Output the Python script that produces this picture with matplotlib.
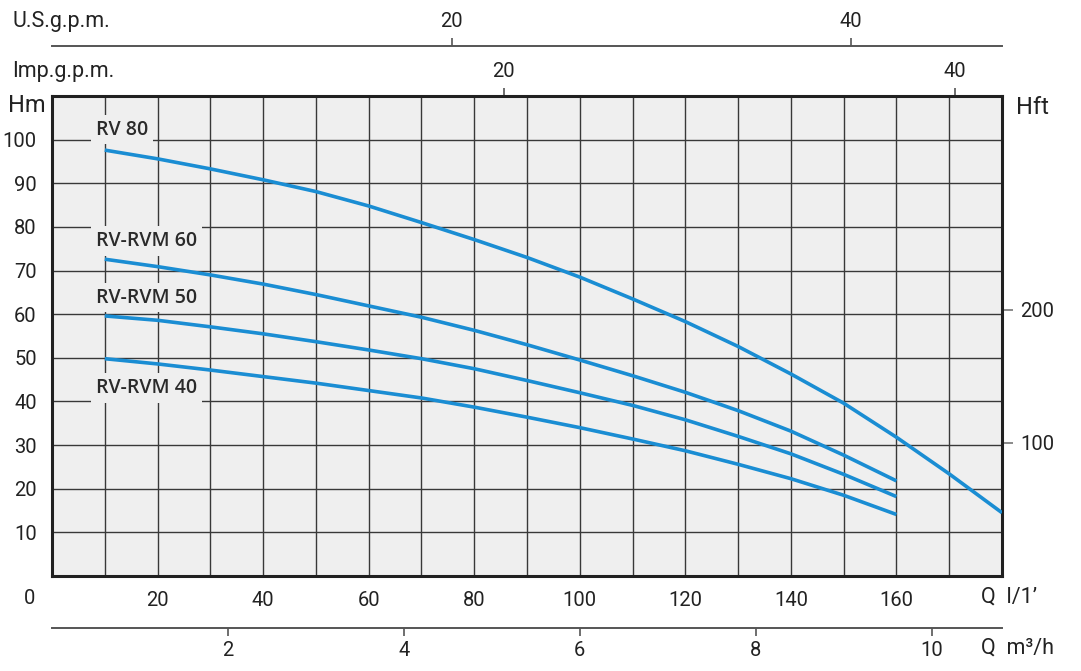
import matplotlib
matplotlib.use("Agg")
import matplotlib.pyplot as plt
import numpy as np

# ---------------- data ----------------
q_lmin = [10, 20, 30, 40, 50, 60, 70, 80, 90, 100, 110, 120, 130, 140, 150, 160, 170, 180]
h_rv80 = [97.6, 95.6, 93.3, 90.8, 88.1, 84.8, 81.0, 77.1, 73.0, 68.5, 63.5, 58.3, 52.6, 46.3, 39.6, 31.8, 23.4, 14.5]
h_rvm60 = [72.6, 70.9, 69.0, 66.9, 64.5, 61.9, 59.3, 56.3, 53.0, 49.5, 45.9, 42.1, 37.9, 33.2, 27.7, 21.8]
h_rvm50 = [59.6, 58.6, 57.1, 55.5, 53.7, 51.8, 49.8, 47.5, 44.8, 42.0, 39.1, 35.8, 32.0, 28.0, 23.3, 18.2]
h_rvm40 = [49.8, 48.6, 47.2, 45.7, 44.2, 42.5, 40.8, 38.7, 36.4, 34.0, 31.4, 28.7, 25.6, 22.3, 18.5, 14.1]
series_names = ["RV 80", "RV-RVM 60", "RV-RVM 50", "RV-RVM 40"]
label_pos = [(8.4, 102.3), (8.4, 76.8), (8.4, 63.8), (8.4, 43.1)]

x_ticks_lmin = [20, 40, 60, 80, 100, 120, 140, 160]
y_ticks_m = [10, 20, 30, 40, 50, 60, 70, 80, 90, 100]
usgpm_ticks = [20, 40]
impgpm_ticks = [20, 40]
m3h_ticks = [2, 4, 6, 8, 10]
hft_ticks = [100, 200]

L_PER_USGAL = 3.785
L_PER_IMPGAL_DRAWN = 4.278   # as drawn on the original chart
M_PER_FT = 0.3048

# ---------------- style ----------------
FONT = ["Roboto", "DejaVu Sans"]
plt.rcParams['font.family'] = FONT
BLUE = "#1a8dd3"
BG = "#efefef"
GRID = "#383838"
TXT = "#222222"
TFS = 14.5

fig = plt.figure(figsize=(10.81, 6.71), dpi=100)
ax = fig.add_axes([52/1081, 1-576/671, (1002-52)/1081, (576-96)/671])
ax.set_facecolor(BG)
ax.set_xlim(0, 180)
ax.set_ylim(0, 110)

ax.set_xticks(np.arange(0, 181, 10))
ax.set_xticklabels([str(v) if v in x_ticks_lmin else "" for v in range(0, 181, 10)])
ax.set_yticks(np.arange(0, 111, 10))
ax.set_yticklabels([str(v) if v in y_ticks_m else "" for v in range(0, 111, 10)])
ax.tick_params(axis='both', length=0, labelsize=TFS, colors=TXT)
ax.tick_params(axis='x', pad=11)
ax.tick_params(axis='y', pad=11)
ax.grid(True, color=GRID, linewidth=1.0)
ax.set_axisbelow(True)
for s in ax.spines.values():
    s.set_linewidth(2.2)
    s.set_color("#202020")

# curves
all_h = [h_rv80, h_rvm60, h_rvm50, h_rvm40]
for name, h, (lx, ly) in zip(series_names, all_h, label_pos):
    ax.plot(q_lmin[:len(h)], h, color=BLUE, linewidth=2.6, solid_capstyle='butt', zorder=3)
    ax.text(lx, ly, name, fontsize=14, family=["Open Sans", "DejaVu Sans"], fontweight='semibold',
            color="#2a2a2a", ha='left', va='center', zorder=4,
            bbox=dict(boxstyle='square,pad=0.25', facecolor=BG, edgecolor='none'))

# top Imp. g.p.m. axis (at top edge)
imp = ax.secondary_xaxis('top', functions=(lambda x: x / L_PER_IMPGAL_DRAWN, lambda g: g * L_PER_IMPGAL_DRAWN))
imp.set_xticks(impgpm_ticks)
imp.tick_params(direction='out', length=6, width=1.2, color="#555555", labelsize=TFS, labelcolor=TXT, pad=5)
imp.spines['top'].set_visible(False)

# top U.S. g.p.m. axis (separate line)
us = ax.secondary_xaxis((576-46)/480, functions=(lambda x: x / L_PER_USGAL, lambda g: g * L_PER_USGAL))
us.set_xticks(usgpm_ticks)
us.tick_params(direction='out', length=6, width=1.2, color="#555555", labelsize=TFS, labelcolor=TXT, pad=5)
us.spines['top'].set_linewidth(1.4)
us.spines['top'].set_color("#555555")

# bottom m3/h axis
m3 = ax.secondary_xaxis(-(628-576)/480, functions=(lambda x: x * 0.06, lambda m: m / 0.06))
m3.set_xticks(m3h_ticks)
m3.tick_params(direction='out', length=6, width=1.2, color="#555555", labelsize=TFS, labelcolor=TXT, pad=3)
m3.spines['bottom'].set_linewidth(1.4)
m3.spines['bottom'].set_color("#555555")

# right Hft axis
hft = ax.secondary_yaxis('right', functions=(lambda m: m / M_PER_FT, lambda f: f * M_PER_FT))
hft.set_yticks(hft_ticks)
hft.tick_params(direction='out', length=8, width=1.2, color="#777777", labelsize=TFS, labelcolor=TXT, pad=5)
hft.spines['right'].set_visible(False)

# static texts
fig.text(12/1081, 1-22/671, "U.S.g.p.m.", fontsize=15.5, color=TXT, ha='left', va='center')
fig.text(12/1081, 1-72/671, "Imp.g.p.m.", fontsize=15.5, color=TXT, ha='left', va='center')
fig.text(8/1081, 1-106/671, "Hm", fontsize=17, color=TXT, ha='left', va='center')
fig.text(1016/1081, 1-108/671, "Hft", fontsize=17, color=TXT, ha='left', va='center')
fig.text(30/1081, 1-598/671, "0", fontsize=TFS, color=TXT, ha='center', va='center')
fig.text(981/1081, 1-597/671, "Q  l/1\u2019", fontsize=15.5, color=TXT, ha='left', va='center')
fig.text(981/1081, 1-648/671, "Q  m\u00b3/h", fontsize=15.5, color=TXT, ha='left', va='center')

fig.savefig("out.png", dpi=100, facecolor="white")
